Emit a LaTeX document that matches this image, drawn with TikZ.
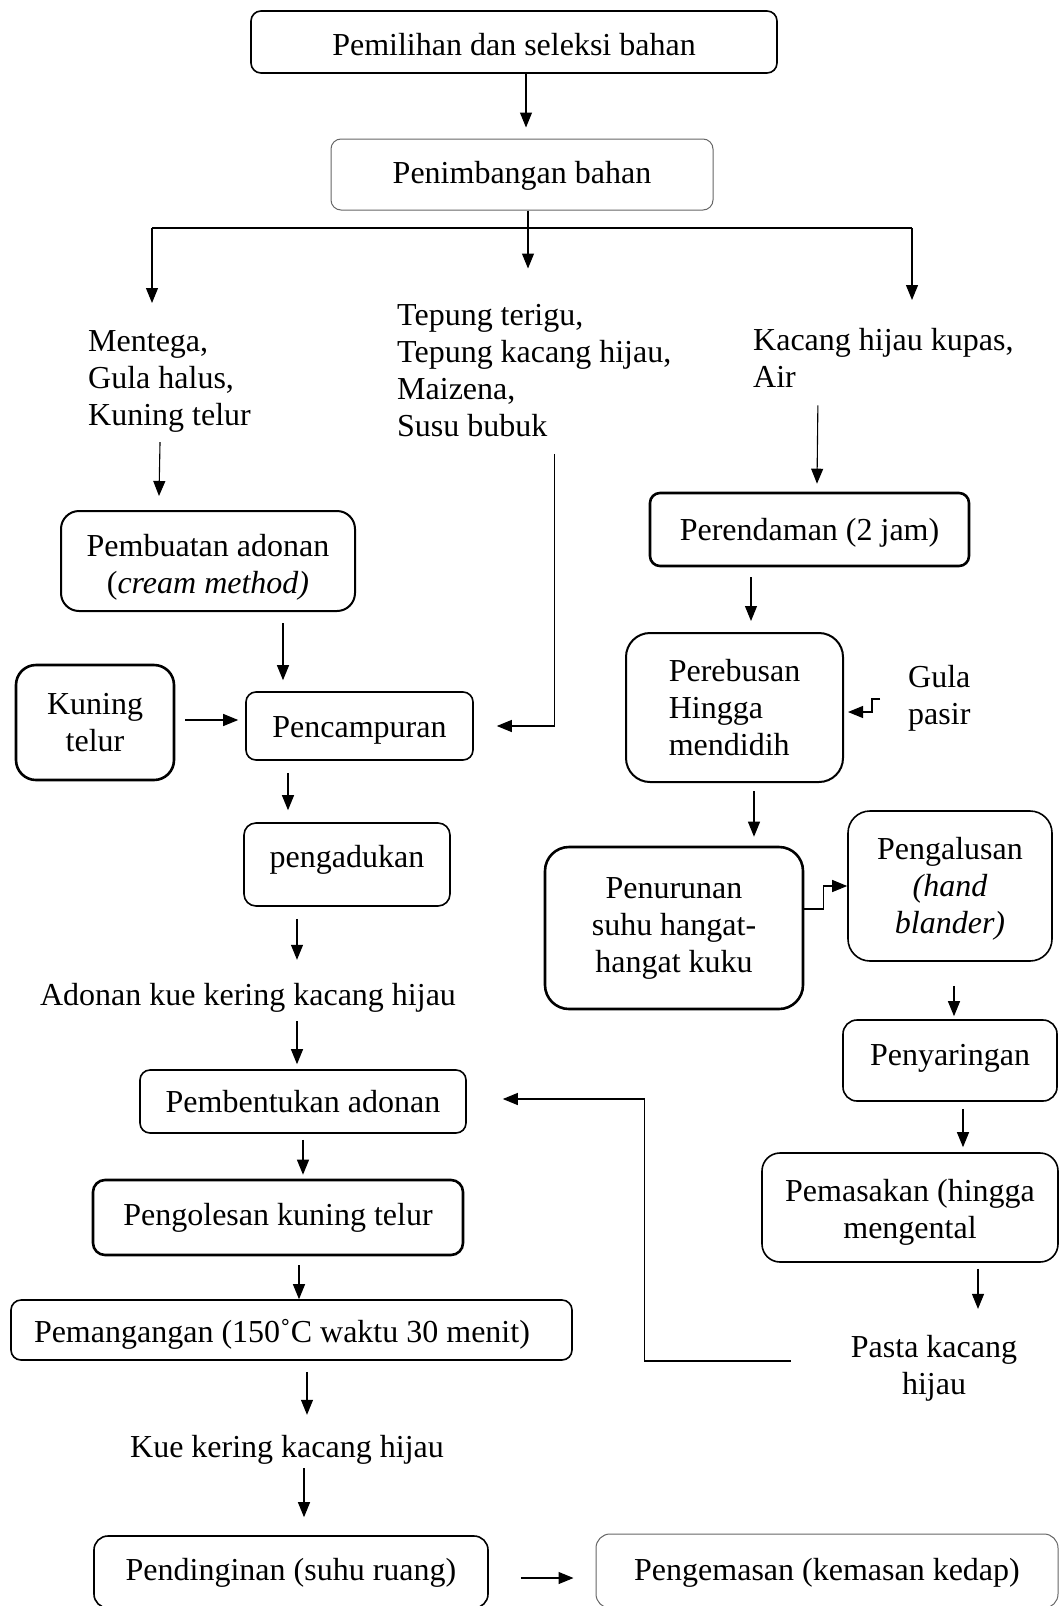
\documentclass[tikz,border=0pt]{standalone}
\usepackage{fontspec}
\setmainfont{Liberation Serif}
\usetikzlibrary{arrows.meta}
\begin{document}
\begin{tikzpicture}[x=1pt,y=-1pt,
  every node/.style={font=\fontsize{32}{37}\selectfont, inner sep=0pt},
  box/.style={draw, rounded corners=10pt, align=center, line width=1.6pt},
  thickbox/.style={box, line width=2.6pt},
  thinbox/.style={box, line width=1pt, draw=black!60},
  txt/.style={align=left},
  one/.style={text height=25pt, text depth=3pt},
  line/.style={line width=1.1pt},
  arr/.style={line width=1.1pt, -{Triangle[length=15pt,width=12pt]}},
]
\useasboundingbox (0,0) rectangle (1060,1606);

% ---------- nodes ----------
\node[box, minimum width=526pt, minimum height=62pt, text height=27pt, text depth=1pt] (b1) at (514,42) {Pemilihan dan seleksi bahan};
\node[thinbox, minimum width=382pt, minimum height=71pt, text height=23pt, text depth=5pt] (b2) at (522,174.5) {Penimbangan bahan};

\node[txt, anchor=west] (t1) at (88,377) {\rule{0pt}{29pt}Mentega,\\Gula halus,\\Kuning telur};
\node[txt, anchor=west] (t2) at (397,370.5) {Tepung terigu,\\Tepung kacang hijau,\\Maizena,\\Susu bubuk};
\node[txt, anchor=west] (t3) at (753,357.5) {Kacang hijau kupas,\\Air};

\node[box, line width=2pt, rounded corners=18pt, minimum width=294pt, minimum height=100pt] (b3) at (208,561) {\rule{0pt}{34pt}Pembuatan adonan\\(\textit{cream method)}};
\node[thickbox, rounded corners=20pt, minimum width=158pt, minimum height=115pt] (b4) at (95,722.5) {Kuning\\telur};
\node[box, minimum width=227pt, minimum height=68pt, one] (b5) at (359.5,726) {Pencampuran};
\node[box, rounded corners=12pt, minimum width=206pt, minimum height=83pt, text height=23pt, text depth=17pt] (b6) at (347,864.5) {pengadukan};
\node[text height=25pt, text depth=1pt] (t4) at (248,993) {Adonan kue kering kacang hijau};
\node[box, minimum width=326pt, minimum height=63pt, one] (b7) at (303,1101.5) {Pembentukan adonan};
\node[thickbox, rounded corners=12pt, minimum width=370pt, minimum height=75pt, text height=23pt, text depth=7pt] (b8) at (278,1217.5) {Pengolesan kuning telur};
\node[box, text height=25pt, text depth=1pt, inner xsep=23pt, minimum height=60pt] (b9) at (291.5,1330) {\makebox[515pt][l]{Pemangangan (150˚C waktu 30 menit)}};
\node[one] (t5) at (287,1446) {Kue kering kacang hijau};
\node[box, rounded corners=14pt, minimum width=394pt, minimum height=72pt, text height=23pt, text depth=7pt] (b10) at (291,1572) {Pendinginan (suhu ruang)};
\node[thinbox, rounded corners=14pt, minimum width=462pt, minimum height=74pt, text height=23pt, text depth=5pt] (b11) at (827,1571) {Pengemasan (kemasan kedap)};

\node[thickbox, minimum width=319pt, minimum height=73pt, one] (b12) at (809.5,529.5) {Perendaman (2 jam)};
\node[box, line width=2pt, rounded corners=24pt, minimum width=217pt, minimum height=149pt, align=left] (b13) at (734.5,707.5) {Perebusan\\Hingga\\mendidih};
\node[txt, anchor=west] (t6) at (908,695.5) {\rule{0pt}{27pt}Gula\\pasir};
\node[thickbox, rounded corners=24pt, minimum width=258pt, minimum height=162pt] (b14) at (674,928) {Penurunan\\suhu hangat-\\hangat kuku};
\node[box, rounded corners=22pt, minimum width=204pt, minimum height=150pt] (b15) at (950,886) {\rule{0pt}{27pt}Pengalusan\\\textit{(hand}\\\textit{blander)}};
\node[box, rounded corners=14pt, minimum width=214pt, minimum height=81pt, text height=23pt, text depth=14pt] (b16) at (950,1060.5) {Penyaringan};
\node[box, rounded corners=18pt, minimum width=296pt, minimum height=109pt] (b17) at (910,1207.5) {\rule{0pt}{31pt}Pemasakan (hingga\\mengental};
\node[align=center] (t7) at (934,1364.5) {\rule{0pt}{29pt}Pasta kacang\\hijau};

% ---------- connectors ----------
\draw[arr] ([xshift=12pt]b1.south) -- ([xshift=4pt,yshift=11pt]b2.north);
\coordinate (jL) at (152,228);
\coordinate (jR) at (912,228);
\draw[line] (jL) -- (jR);
\draw[arr] ([xshift=6pt]b2.south) -- ++(0,58);
\draw[arr] (jL) -- ++(0,75);
\draw[arr] (jR) -- ++(0,72);

\draw[arr] ([xshift=-9.5pt,yshift=-10pt]t1.south) -- ([xshift=-49pt,yshift=14pt]b3.north);
\draw[arr] ([xshift=75pt,yshift=-11pt]b3.south) -- ([xshift=-76.5pt,yshift=11pt]b5.north);
\draw[arr] ([xshift=10pt,yshift=2.5pt]b4.east) -- ([xshift=-7pt,yshift=6pt]b5.west);
\draw[arr] ([xshift=20.5pt,yshift=-17pt]t2.south) |- ([xshift=23pt]b5.east);
\draw[arr] ([xshift=-71.5pt,yshift=-12pt]b5.south) -- ([xshift=-59pt,yshift=12pt]b6.north);
\draw[arr] ([xshift=-50pt,yshift=-12pt]b6.south) -- ([xshift=49pt,yshift=20pt]t4.north);
\draw[arr] ([xshift=49pt,yshift=-15pt]t4.south) -- ([xshift=-6pt,yshift=5pt]b7.north);
\draw[arr] ([yshift=-6pt]b7.south) -- ([xshift=25pt,yshift=4pt]b8.north);
\draw[arr] ([xshift=21pt,yshift=-9pt]b8.south) -- ([xshift=7.5pt]b9.north);
\draw[arr] ([xshift=15.5pt,yshift=-11pt]b9.south) -- ([xshift=20pt,yshift=17pt]t5.north);
\draw[arr] ([xshift=17pt,yshift=-8pt]t5.south) -- ([xshift=13pt,yshift=18pt]b10.north);
\draw[arr] ([xshift=32pt,yshift=-6pt]b10.east) -- ([xshift=-22pt,yshift=-7pt]b11.west);

\draw[arr] ([xshift=-65.5pt,yshift=-18pt]t3.south) -- ([xshift=7.5pt,yshift=8pt]b12.north);
\draw[arr] ([xshift=-58.5pt,yshift=-10pt]b12.south) -- ([xshift=16.5pt,yshift=11pt]b13.north);
\draw[arr] ([xshift=19.5pt,yshift=-8pt]b13.south) -- ([xshift=80pt,yshift=9pt]b14.north);
\draw[arr] ([yshift=19pt]b14.east) -- ++(19,0) |- (b15.west);
\draw[arr] ([xshift=-28pt,yshift=-3.5pt]t6.west) -- ++(-8,0) -- ++(0,13) -- ([xshift=4pt,yshift=-4.5pt]b13.east);
\draw[arr] ([xshift=4pt,yshift=-24pt]b15.south) -- ([xshift=4pt,yshift=3pt]b16.north);
\draw[arr] ([xshift=13pt,yshift=-7pt]b16.south) -- ([xshift=53pt,yshift=5pt]b17.north);
\draw[arr] ([xshift=68pt,yshift=-6pt]b17.south) -- ([xshift=44pt,yshift=19pt]t7.north);
\draw[arr] ([xshift=-60pt,yshift=3.5pt]t7.west) -- ++(-146,0) -- ++(0,-262) -- ([xshift=36pt,yshift=2.5pt]b7.east);
\end{tikzpicture}
\end{document}
